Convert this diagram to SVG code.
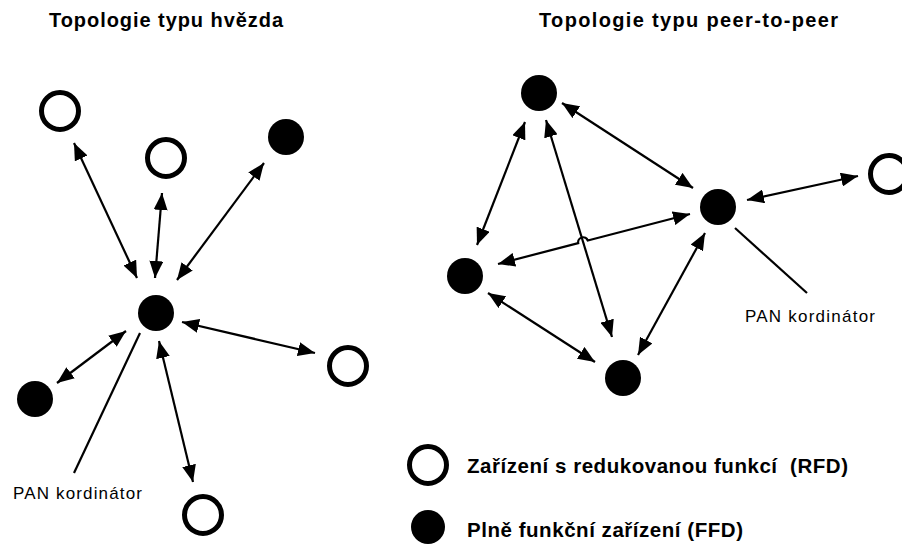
<svg xmlns="http://www.w3.org/2000/svg" width="902" height="547" viewBox="0 0 902 547">
<style>
.rfd{fill:#fff;stroke:#000;stroke-width:5}
.ffd{fill:#000}
.con{fill:none;stroke:#000;stroke-width:2.2;marker-start:url(#ah);marker-end:url(#ah)}
.lead{fill:none;stroke:#000;stroke-width:2.2}
.title{font-family:"Liberation Sans",Arial,sans-serif;font-weight:bold;font-size:20px;fill:#000}
.lbl{font-family:"Liberation Sans",Arial,sans-serif;font-size:17px;fill:#000}
.leg{font-family:"Liberation Sans",Arial,sans-serif;font-weight:bold;font-size:20.5px;fill:#000}
</style>
<defs>
<marker id="ah" markerUnits="userSpaceOnUse" markerWidth="18" markerHeight="14" refX="17" refY="7" orient="auto-start-reverse">
<path d="M0,0 L17,7 L0,14 z" fill="#000"/>
</marker>
</defs>
<rect width="902" height="547" fill="#fff"/>
<text class="title" x="49" y="27" textLength="234">Topologie typu hvězda</text>
<text class="title" x="539" y="27" textLength="299">Topologie typu peer-to-peer</text>

<g id="connectors">
<line class="con" x1="74" y1="143" x2="137" y2="278"/>
<line class="con" x1="162" y1="193" x2="155" y2="278"/>
<line class="con" x1="264" y1="163" x2="177" y2="280"/>
<line class="con" x1="126" y1="331" x2="57" y2="383"/>
<line class="con" x1="182" y1="322" x2="315" y2="353"/>
<line class="con" x1="159" y1="341" x2="193" y2="482"/>
<line class="lead" x1="140" y1="333" x2="74" y2="473"/>

<line class="con" x1="562" y1="103" x2="693" y2="188"/>
<line class="con" x1="525" y1="122" x2="477" y2="245"/>
<line class="con" x1="546" y1="120" x2="612" y2="337"/>
<path class="con" d="M498,264 L578.2,243.1 A5,5 0 0,1 587.8,240.5 L690,214"/>
<line class="con" x1="488" y1="293" x2="595" y2="362"/>
<line class="con" x1="705" y1="233" x2="638" y2="355"/>
<line class="con" x1="747" y1="200" x2="858" y2="176"/>
<line class="lead" x1="735" y1="228" x2="807" y2="293"/>
</g>

<g id="star-rfd-1"><circle class="rfd" cx="60" cy="111" r="18.5"/></g>
<g id="star-rfd-2"><circle class="rfd" cx="166" cy="158" r="18.5"/></g>
<g id="star-ffd-1"><circle class="ffd" cx="286" cy="137" r="18"/></g>
<g id="star-hub"><circle class="ffd" cx="156" cy="313" r="18"/></g>
<g id="star-ffd-2"><circle class="ffd" cx="35" cy="399" r="18"/></g>
<g id="star-rfd-3"><circle class="rfd" cx="348" cy="366" r="18.5"/></g>
<g id="star-rfd-4"><circle class="rfd" cx="203" cy="515" r="18.5"/></g>
<g id="star-pan-label"><text class="lbl" x="13" y="499" textLength="129">PAN kordinátor</text></g>

<g id="p2p-top"><circle class="ffd" cx="539" cy="93" r="18"/></g>
<g id="p2p-pan"><circle class="ffd" cx="718" cy="207" r="18"/></g>
<g id="p2p-left"><circle class="ffd" cx="465" cy="276" r="18"/></g>
<g id="p2p-bottom"><circle class="ffd" cx="623" cy="378" r="18"/></g>
<g id="p2p-rfd"><circle class="rfd" cx="889" cy="174" r="18.5"/></g>
<g id="p2p-pan-label"><text class="lbl" x="745" y="322" textLength="130">PAN kordinátor</text></g>

<g id="legend-rfd">
<circle class="rfd" cx="428" cy="465" r="18.5"/>
<text class="leg" x="467" y="473" textLength="381" xml:space="preserve">Zařízení s redukovanou funkcí  (RFD)</text>
</g>
<g id="legend-ffd">
<circle class="ffd" cx="428" cy="527" r="17"/>
<text class="leg" x="467" y="537" textLength="276">Plně funkční zařízení (FFD)</text>
</g>
</svg>
